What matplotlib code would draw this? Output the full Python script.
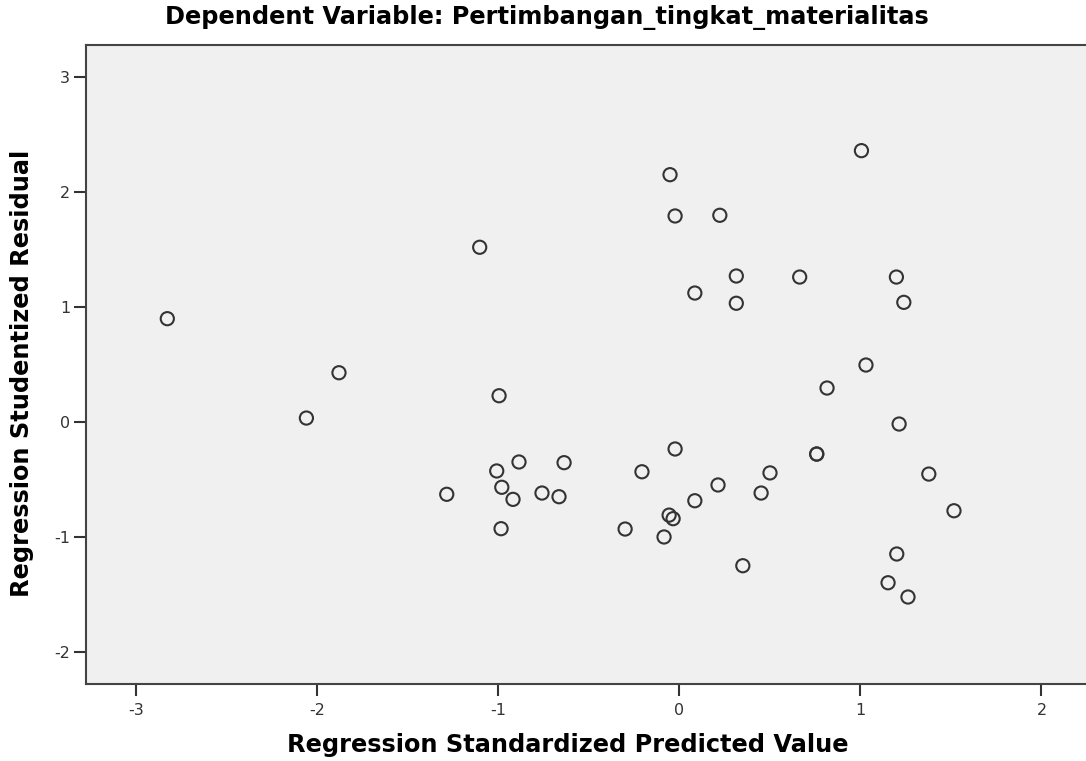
import matplotlib
matplotlib.use("Agg")
import matplotlib.pyplot as plt

plt.rcParams["font.family"] = ["DejaVu Sans"]
plt.rcParams["axes.unicode_minus"] = False

# standardized predicted values (x) and studentized residuals (y)
pred = [-2.827, -1.879, -2.059, -1.102, -0.995, -1.284, -1.008, -0.885, -0.980,
        -0.918, -0.758, -0.664, -0.636, -0.984, -0.299, -0.206, -0.051, -0.023,
        0.224, 0.086, 0.315, 0.315, 0.665, 1.006, 1.199, 1.240, 1.031, 0.816,
        1.214, -0.023, -0.056, -0.034, -0.084, 0.086, 0.214, 0.452, 0.501,
        0.351, 0.759, 0.759, 1.378, 1.517, 1.201, 1.153, 1.263]
resid = [0.901, 0.431, 0.037, 1.522, 0.231, -0.626, -0.423, -0.345, -0.565,
         -0.670, -0.615, -0.647, -0.351, -0.925, -0.928, -0.430, 2.153, 1.794,
         1.800, 1.124, 1.272, 1.035, 1.263, 2.362, 1.263, 1.043, 0.498, 0.298,
         -0.015, -0.232, -0.807, -0.838, -0.997, -0.682, -0.545, -0.615, -0.440,
         -1.247, -0.276, -0.276, -0.450, -0.769, -1.145, -1.395, -1.519]

x_ticks = [-3, -2, -1, 0, 1, 2]
y_ticks = [-2, -1, 0, 1, 2, 3]

W, H = 1086, 761
fig = plt.figure(figsize=(W / 100, H / 100), dpi=100)
ax = fig.add_axes([86 / W, (H - 684.3) / H, 1000 / W, (684.3 - 45.3) / H])
ax.set_facecolor("#f0f0f0")

ax.scatter(pred, resid, s=90, facecolors="none", edgecolors="#333333",
           linewidths=1.5, zorder=3)

ax.set_xlim(-3.276, 2.246)
ax.set_ylim(-2.278, 3.278)
ax.set_xticks(x_ticks)
ax.set_yticks(y_ticks)
ax.tick_params(length=8.5, width=1.5, color="#333333", labelsize=11.5,
               labelcolor="#333333")
ax.tick_params(axis="x", pad=5)
ax.tick_params(axis="y", pad=3)

for side in ["left", "bottom", "top"]:
    ax.spines[side].set_color("#444444")
    ax.spines[side].set_linewidth(1.5)
ax.spines["right"].set_visible(False)

fig.text(547 / W, 1 - 18 / H,
         "Dependent Variable: Pertimbangan_tingkat_materialitas",
         ha="center", va="center", fontsize=17.3, fontweight="bold")
fig.text(568 / W, 1 - 745 / H, "Regression Standardized Predicted Value",
         ha="center", va="center", fontsize=17.3, fontweight="bold")
fig.text(22 / W, 1 - 373 / H, "Regression Studentized Residual",
         ha="center", va="center", rotation=90, fontsize=17.3, fontweight="bold")

fig.savefig("out.png", dpi=100)
